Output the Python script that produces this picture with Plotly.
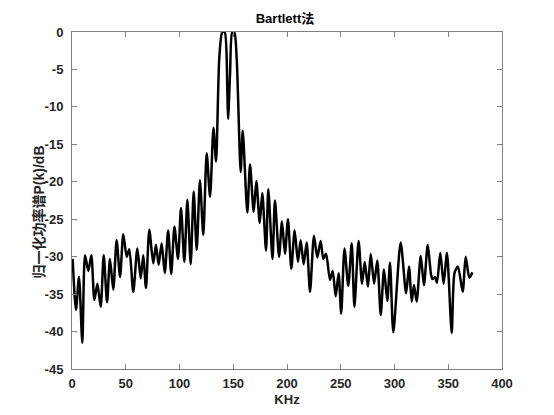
import plotly.graph_objects as go

freq_khz = [0.6, 3.7, 6.5, 9.6, 12.1, 15.2, 18.0, 20.8, 23.6, 26.7, 29.5, 32.6, 35.3, 38.4,
            41.5, 44.7, 47.7, 50.9, 53.3, 57.0, 60.8, 63.9, 66.3, 68.8, 71.9, 75.6, 78.1,
            80.6, 83.4, 86.3, 89.4, 92.3, 95.3, 98.6, 101.4, 104.5, 107.3, 110.4, 113.2,
            116.0, 119.0, 122.1, 125.3, 128.4, 131.6, 134.0, 137.0, 139.8, 142.0, 144.5,
            145.2, 147.0, 149.1, 151.0, 153.2, 156.9, 158.8, 163.1, 165.6, 169.0, 171.5,
            174.6, 177.0, 180.5, 182.6, 186.5, 188.8, 192.6, 195.3, 198.1, 200.9, 204.0,
            207.1, 210.2, 212.7, 215.5, 218.3, 221.4, 225.1, 228.2, 231.3, 233.8, 236.3,
            240.0, 242.5, 245.3, 248.0, 250.4, 253.5, 257.0, 260.2, 262.7, 266.6, 269.8,
            272.3, 275.3, 277.9, 281.0, 284.0, 287.2, 290.2, 293.3, 295.8, 298.9, 305.7,
            310.8, 313.5, 316.0, 318.1, 320.6, 324.4, 327.4, 330.9, 334.0, 335.4, 337.7,
            339.5, 342.6, 345.7, 348.8, 353.2, 355.8, 359.0, 363.4, 366.2, 369.6, 372.5]

power_db = [-30.3, -37.1, -32.7, -41.5, -29.8, -31.9, -29.8, -35.8, -33.6, -36.7, -29.8,
            -36.1, -30.3, -34.4, -27.8, -32.7, -27.0, -30.0, -29.0, -34.7, -28.9, -32.9,
            -29.8, -34.2, -26.4, -30.9, -28.4, -31.1, -28.2, -32.2, -26.5, -32.3, -26.0,
            -30.3, -23.5, -30.7, -22.4, -31.0, -21.3, -29.1, -19.8, -27.1, -16.2, -22.0,
            -12.8, -17.3, -3.5, 0.0, 0.0, -8.0, -11.6, -5.7, 0.0, 0.0, -3.5, -18.7, -13.2,
            -24.1, -17.7, -24.0, -19.9, -25.5, -21.5, -29.2, -21.0, -30.3, -22.5, -30.0,
            -25.3, -29.6, -25.0, -31.6, -26.5, -30.7, -27.8, -31.0, -28.1, -34.7, -27.2,
            -30.1, -27.9, -30.3, -29.6, -33.1, -31.9, -35.3, -32.2, -37.6, -28.9, -33.9,
            -28.2, -36.7, -27.9, -33.6, -30.7, -34.0, -29.6, -33.6, -30.5, -37.8, -31.7,
            -35.9, -30.8, -40.1, -28.1, -34.9, -31.3, -36.0, -33.8, -36.0, -29.9, -33.8,
            -28.4, -32.4, -33.0, -32.7, -33.5, -29.5, -33.6, -29.5, -40.2, -32.2, -31.3,
            -34.7, -30.0, -32.8, -32.1]

x_ticks = [0, 50, 100, 150, 200, 250, 300, 350, 400]
x_tick_labels = ["0", "50", "100", "150", "200", "250", "300", "350", "400"]
y_ticks = [0, -5, -10, -15, -20, -25, -30, -35, -40, -45]
y_tick_labels = ["0", "-5", "-10", "-15", "-20", "-25", "-30", "-35", "-40", "-45"]

axis_color = "#808080"
text_color = "#262626"
font_family = "Liberation Sans, Arial, Noto Sans CJK SC, sans-serif"

fig = go.Figure()
fig.add_trace(go.Scatter(
    x=freq_khz, y=power_db, mode="lines",
    line=dict(color="black", width=2.5, shape="spline", smoothing=0.7),
    showlegend=False,
))

common_axis = dict(
    showgrid=False, zeroline=False, showline=True, linecolor=axis_color, linewidth=1,
    mirror="ticks", ticks="inside", ticklen=5, tickcolor=axis_color,
    tickfont=dict(family=font_family, size=13, color=text_color, weight="bold"),
)

fig.update_layout(
    width=554, height=415,
    margin=dict(l=64, r=60, t=24, b=54),
    paper_bgcolor="white", plot_bgcolor="white",
    title=dict(text="<b>Bartlett法</b>", x=0.5, xanchor="center", y=1, yanchor="top",
               yref="container", pad=dict(t=6),
               font=dict(family=font_family, size=13, color="black")),
    xaxis=dict(range=[0, 400], tickvals=x_ticks, ticktext=x_tick_labels,
               ticklabelstandoff=2,
               title=dict(text="<b>KHz</b>", standoff=5,
                          font=dict(family=font_family, size=13, color=text_color)),
               **common_axis),
    yaxis=dict(range=[-45, 0], tickvals=y_ticks, ticktext=y_tick_labels,
               ticklabelstandoff=5, **common_axis),
    annotations=[dict(
        text="<b>归一化功率谱P(k)/dB</b>", textangle=-90,
        xref="paper", yref="paper", x=0, y=0.5, xanchor="center", yanchor="middle",
        xshift=-34, yshift=-12, showarrow=False,
        font=dict(family=font_family, size=14, color=text_color),
    )],
)

fig.write_html("out.html")
